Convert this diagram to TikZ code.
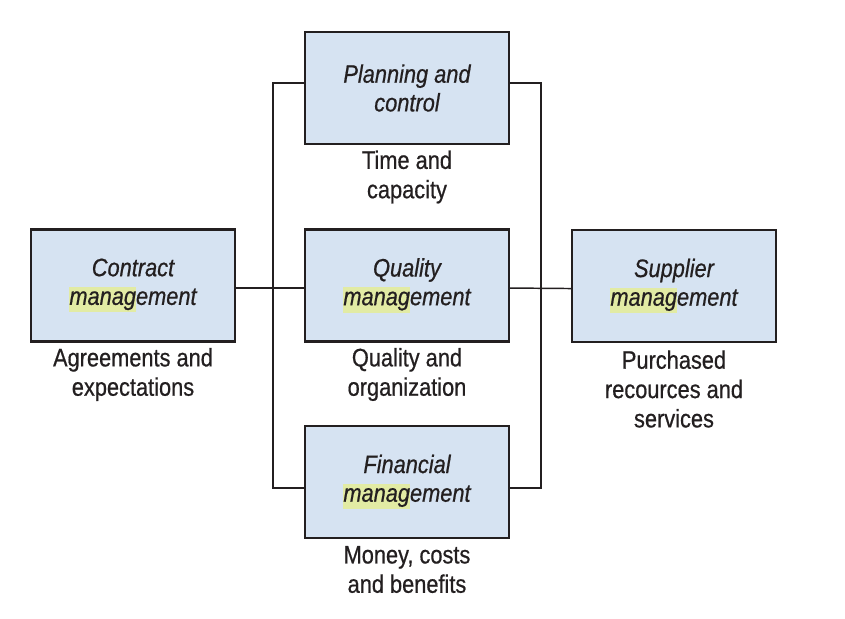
\documentclass[tikz,border=0pt]{standalone}
\usepackage{fontspec}
\setmainfont{Liberation Sans}[FakeStretch=0.86,FakeBold=0.6]
\definecolor{boxfill}{HTML}{D6E3F2}
\definecolor{hlcol}{HTML}{E2EBA4}
\definecolor{inkc}{HTML}{231F20}
\newcommand{\hlword}[1]{{\setlength\fboxsep{0pt}\colorbox{hlcol}{\rule[-0.3em]{0pt}{1.0em}#1}}}
\begin{document}
\begin{tikzpicture}[x=0.75pt,y=-0.75pt,
  mgmtbox/.style={draw=inkc,line width=1.7pt,fill=boxfill,minimum width=153pt,minimum height=84pt,align=center,inner sep=0pt,font=\fontsize{19}{21.5}\selectfont\itshape,text=inkc},
  caption/.style={align=center,inner sep=0pt,font=\fontsize{19}{22}\selectfont,text=inkc},
  link/.style={draw=inkc,line width=1.1pt}]
\useasboundingbox[fill=white] (0,0) rectangle (845,618);
\node[mgmtbox] (contract) at (133,285.5) {Contract\\\hlword{manag}ement};
\node[mgmtbox] (plan) at (407,88) {Planning and\\control};
\node[mgmtbox] (quality) at (407,285.5) {Quality\\\hlword{manag}ement};
\node[mgmtbox] (supplier) at (674,286) {Supplier\\\hlword{manag}ement};
\node[mgmtbox] (finance) at (407,482) {Financial\\\hlword{manag}ement};
\coordinate (L) at (273,288);
\coordinate (R) at (541,288);
\draw[link] ([yshift=3.75pt]plan.west) -| (L) |- ([yshift=-4.5pt]finance.west);
\draw[link] ([yshift=3.75pt]plan.east) -| (R) |- ([yshift=-4.5pt]finance.east);
\draw[link] ([yshift=-1.9pt]contract.east) -- ([yshift=-1.9pt]quality.west);
\draw[link] ([yshift=-1.9pt]quality.east) -- ([yshift=-1.9pt]supplier.west);
\node[caption] (capA) at (133,374.5) {Agreements and\\expectations};
\node[caption] (capB) at (407,177) {Time and\\capacity};
\node[caption] (capC) at (407,374.5) {Quality and\\organization};
\node[caption] (capD) at (674,389) {Purchased\\recources and\\services};
\node[caption] (capE) at (407,569.5) {Money, costs\\and benefits};
\end{tikzpicture}
\end{document}
